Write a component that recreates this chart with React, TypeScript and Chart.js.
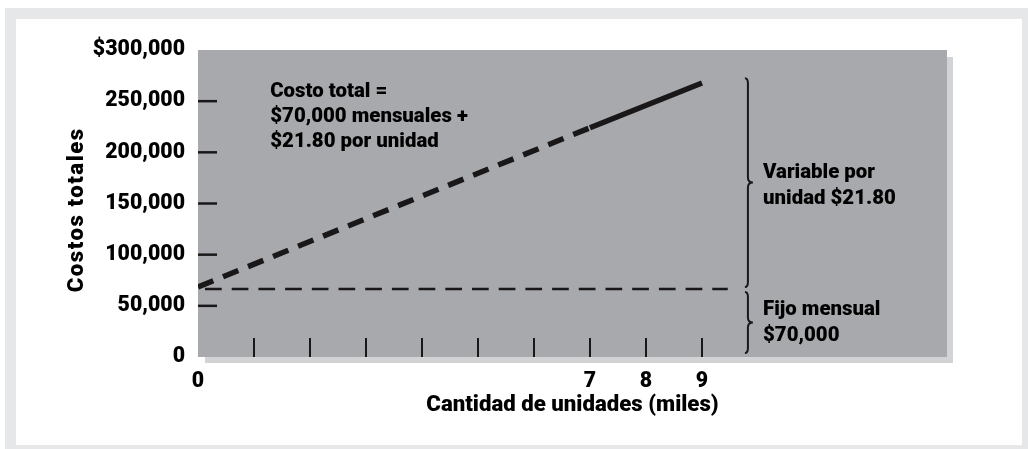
import React, { useEffect, useRef } from 'react';
import { Chart, registerables } from 'chart.js';

Chart.register(...registerables);

const FONT = 'Roboto, Inter, "DejaVu Sans", sans-serif';
const WEIGHT = 900;
const INK = '#1a1718';
const TEXT = '#000000';

// ---- data ----
const units = [0, 7, 9]; // thousands of units
const totalCost = [68500, 224000, 267700];
const fixedLineUnits = [0, 9.46];
const fixedLineCost = [66500, 66500];
const xLabelValues = [0, 7, 8, 9];
const xTickMarks = [1, 2, 3, 4, 5, 6, 7, 8, 9];
const yTickMarks = [50000, 100000, 150000, 200000, 250000];
const yMin = 0;
const yMax = 300000;
const yStep = 50000;
const xMin = 0;
const xMax = 13.375;
const solidFrom = 7;

const xTitle = 'Cantidad de unidades (miles)';
const yTitle = 'Costos totales';

const costLabelLines = ['Costo total =', '$70,000 mensuales +', '$21.80 por unidad'];
const costLabelAt = [1.29, 259000];
const braceUnits = 9.82;
const variableBrace = [272500, 68500];
const fixedBrace = [63500, 4000];
const variableLines = ['Variable por', 'unidad $21.80'];
const variableAt = [10.09, 180000];
const fixedLines = ['Fijo mensual', '$70,000'];
const fixedAt = [10.09, 46000];

function measure(text: string, size: number) {
  const c = document.createElement('canvas').getContext('2d')!;
  c.font = `${WEIGHT} ${size}px ${FONT}`;
  return c.measureText(text).width;
}

function fitSize(text: string, target: number) {
  const w = measure(text, 100);
  return Math.round((target / w) * 100 * 10) / 10;
}

function drawBrace(ctx: CanvasRenderingContext2D, x: number, yTop: number, yBot: number) {
  const yMid = (yTop + yBot) / 2;
  const r = 5;
  const w = 3;
  ctx.beginPath();
  ctx.moveTo(x - w, yTop);
  ctx.quadraticCurveTo(x, yTop, x, yTop + r);
  ctx.lineTo(x, yMid - r);
  ctx.quadraticCurveTo(x, yMid, x + 5, yMid);
  ctx.quadraticCurveTo(x, yMid, x, yMid + r);
  ctx.lineTo(x, yBot - r);
  ctx.quadraticCurveTo(x, yBot, x - w, yBot);
  ctx.stroke();
}

function makeDecor(noteSize: number, yTitleSize: number, yTitleSpacing: number) {
  return {
    id: 'decor',
    beforeDraw(chart: any) {
      const { ctx, chartArea: a, width, height } = chart;
      ctx.save();
      ctx.fillStyle = '#ffffff';
      ctx.fillRect(0, 0, width, height);
      ctx.fillStyle = '#e6e7e8';
      ctx.fillRect(5, 8, width - 5, height - 8);
      ctx.fillStyle = '#ffffff';
      ctx.fillRect(16, 19, 1022 - 16, 445 - 19);
      ctx.fillStyle = '#d1d3d4';
      ctx.fillRect(a.left + 7, a.top + 7, a.width - 1, a.height - 1);
      ctx.fillStyle = '#a7a9ac';
      ctx.fillRect(a.left, a.top, a.width, a.height);
      ctx.restore();
    },
    afterDraw(chart: any) {
      const { ctx, chartArea: a, scales } = chart;
      const xs = scales.x;
      const ys = scales.y;
      ctx.save();
      ctx.strokeStyle = INK;
      ctx.lineWidth = 2;
      ctx.lineCap = 'butt';
      xTickMarks.forEach((v) => {
        const px = Math.round(xs.getPixelForValue(v));
        ctx.beginPath();
        ctx.moveTo(px, a.bottom);
        ctx.lineTo(px, a.bottom - 19);
        ctx.stroke();
      });
      ctx.lineWidth = 2.5;
      yTickMarks.forEach((v) => {
        const py = ys.getPixelForValue(v);
        ctx.beginPath();
        ctx.moveTo(a.left, py);
        ctx.lineTo(a.left + 19, py);
        ctx.stroke();
      });
      ctx.lineWidth = 2;
      const bx = xs.getPixelForValue(braceUnits);
      drawBrace(ctx, bx, ys.getPixelForValue(variableBrace[0]), ys.getPixelForValue(variableBrace[1]));
      drawBrace(ctx, bx, ys.getPixelForValue(fixedBrace[0]), ys.getPixelForValue(fixedBrace[1]));

      ctx.fillStyle = TEXT;
      ctx.font = `${WEIGHT} ${noteSize}px ${FONT}`;
      ctx.textAlign = 'left';
      ctx.textBaseline = 'middle';
      const block = (lines: string[], at: number[], lh: number) => {
        const px = xs.getPixelForValue(at[0]);
        const py = ys.getPixelForValue(at[1]);
        lines.forEach((t, i) => ctx.fillText(t, px, py + i * lh));
      };
      block(costLabelLines, costLabelAt, 25);
      block(variableLines, variableAt, 26);
      block(fixedLines, fixedAt, 26);

      ctx.save();
      ctx.translate(77 + yTitleSpacing / 2, (a.top + a.bottom) / 2 + 7);
      ctx.rotate(-Math.PI / 2);
      ctx.font = `${WEIGHT} ${yTitleSize}px ${FONT}`;
      try { (ctx as any).letterSpacing = `${yTitleSpacing}px`; } catch (e) {}
      ctx.textAlign = 'center';
      ctx.textBaseline = 'middle';
      ctx.fillText(yTitle, yTitleSpacing / 2, 0);
      ctx.restore();
      ctx.restore();
    },
  };
}

export default function App() {
  const ref = useRef<HTMLCanvasElement | null>(null);
  useEffect(() => {
    if (!ref.current) return;
    const tickSize = fitSize('$300,000', 92);
    const xTitleSize = fitSize(xTitle, 292);
    const noteSize = fitSize('Variable por', 112);
    const yTitleSize = xTitleSize;
    const yTitleSpacing = Math.max(0, (165 - measure(yTitle, yTitleSize)) / yTitle.length);
    const tickFont = { family: FONT, size: tickSize, weight: WEIGHT as any };
    const chart = new Chart(ref.current, {
      type: 'line',
      data: {
        datasets: [
          {
            label: 'Costo total',
            data: units.map((x, i) => ({ x, y: totalCost[i] })),
            borderColor: INK,
            borderWidth: 5.5,
            borderCapStyle: 'butt',
            pointRadius: 0,
            tension: 0,
            segment: {
              borderDash: (c: any) => (c.p0.parsed.x < solidFrom ? [16.5, 10.5] : undefined),
            },
          },
          {
            label: 'Fijo mensual',
            data: fixedLineUnits.map((x, i) => ({ x, y: fixedLineCost[i] })),
            borderColor: INK,
            borderWidth: 2.5,
            borderDash: [16.7, 10],
            borderDashOffset: 19.7,
            pointRadius: 0,
            tension: 0,
          },
        ],
      },
      options: {
        responsive: false,
        animation: false,
        events: [],
        layout: { padding: { left: 0, top: 50, right: 81, bottom: 0 } },
        plugins: { legend: { display: false }, tooltip: { enabled: false } },
        scales: {
          x: {
            type: 'linear',
            min: xMin,
            max: xMax,
            afterFit: (s: any) => { s.height = 92; },
            grid: { display: false, drawTicks: false },
            border: { display: false },
            ticks: {
              stepSize: 1,
              autoSkip: false,
              maxRotation: 0,
              padding: 25 - (tickSize * 1.2) / 2,
              color: TEXT,
              font: tickFont,
              callback: (v: any) => (xLabelValues.includes(Number(v)) ? String(v) : ''),
            },
            title: {
              display: true,
              text: xTitle,
              color: TEXT,
              font: { family: FONT, size: xTitleSize, weight: WEIGHT as any },
              padding: { top: 0, bottom: 44 - (xTitleSize * 1.2) / 2 },
            },
          },
          y: {
            type: 'linear',
            min: yMin,
            max: yMax,
            afterFit: (s: any) => { s.width = 198; },
            grid: { display: false, drawTicks: false },
            border: { display: false },
            ticks: {
              stepSize: yStep,
              padding: 13,
              color: TEXT,
              font: tickFont,
              callback: (v: any) => {
                const n = Number(v);
                const s = n.toLocaleString('en-US');
                return n === yMax ? '$' + s : s;
              },
            },
          },
        },
      },
      plugins: [makeDecor(noteSize, yTitleSize, yTitleSpacing)],
    });
    return () => chart.destroy();
  }, []);
  return (
    <div style={{ position: 'absolute', left: 0, top: 0, width: 1028, height: 449 }}>
      <canvas ref={ref} width={1028} height={449} style={{ display: 'block' }} />
    </div>
  );
}
